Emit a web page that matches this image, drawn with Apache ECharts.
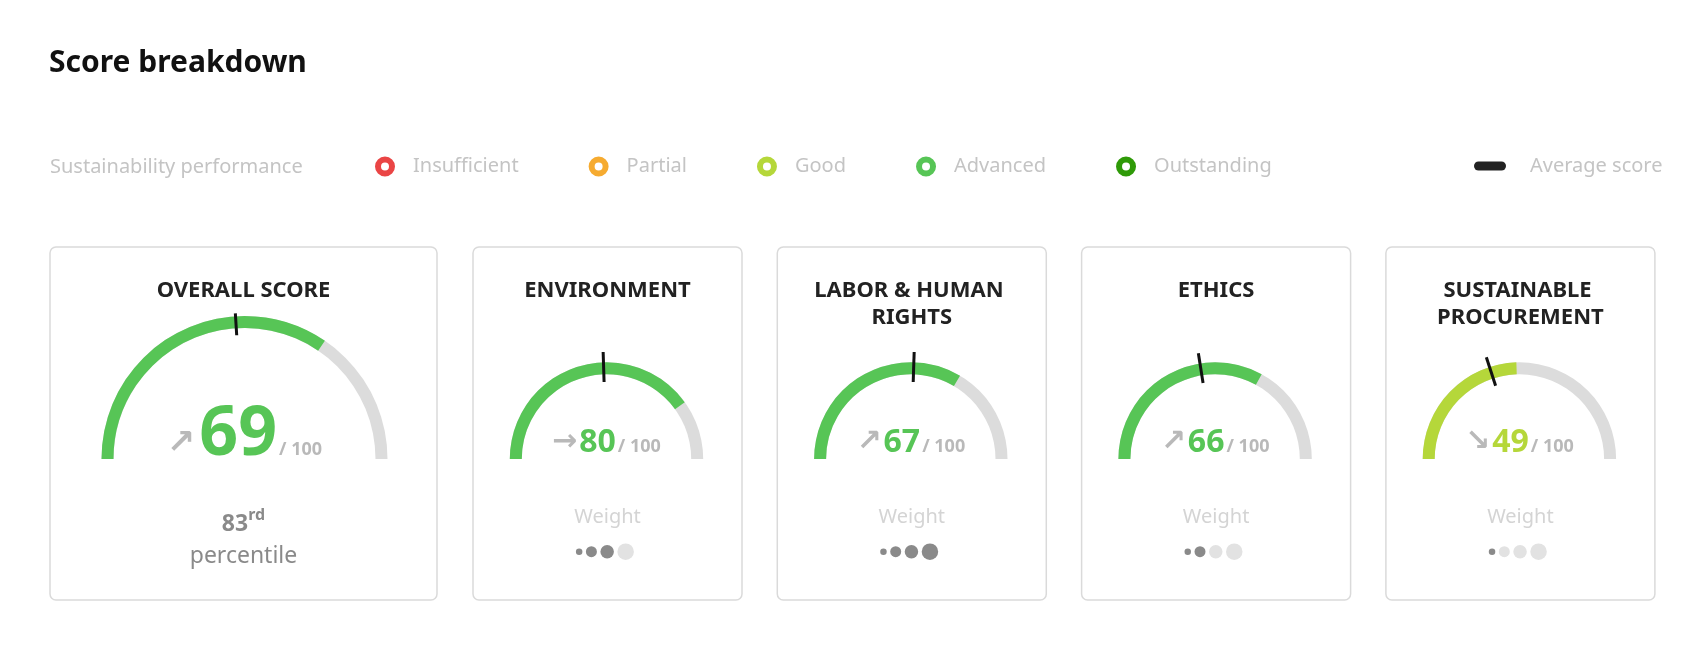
<!DOCTYPE html>
<html><head><meta charset="utf-8">
<script src="https://cdn.jsdelivr.net/npm/echarts@6/dist/echarts.min.js"></script>
<style>html,body{margin:0;padding:0;background:#fff;}#c{width:1705px;height:651px;}</style>
</head><body><div id="c"></div>
<script>
// ---------- data ----------
const pageTitle = 'Score breakdown';
const legendTitle = 'Sustainability performance';
const categories = ['OVERALL SCORE', 'ENVIRONMENT', 'LABOR & HUMAN RIGHTS', 'ETHICS', 'SUSTAINABLE PROCUREMENT'];
const scores = [69, 80, 67, 66, 49];
const averageScores = [48, 49, 51, 45, 40];
const trends = ['up', 'flat', 'up', 'up', 'down'];
const performance = ['Advanced', 'Advanced', 'Advanced', 'Advanced', 'Good'];
const weightLevels = [null, 3, 4, 2, 1];
const percentileRank = 83;
const percentileSuffix = 'rd';
const percentileLabel = 'percentile';
const weightLabel = 'Weight';
const scaleMax = 100;
const performanceLevels = ['Insufficient', 'Partial', 'Good', 'Advanced', 'Outstanding'];
const levelColors = ['#ea4545', '#f6ab30', '#b5d73a', '#57c556', '#2f9a08'];
const averageLabel = 'Average score';

// ---------- layout / style ----------
const FONT = '"Noto Sans", "Open Sans", sans-serif';
const K = 0.285;           // baseline offset from text middle (em)
const cardTop = 247, cardH = 353;
const cards = [{x: 50, w: 387}].concat([0, 1, 2, 3].map(i => ({x: 473 + i * 304.3, w: 269})));
const gaugeCy = 459;
const big = {R: 143, width: 12, numFs: 68, unitFs: 18, arrowFs: 34, baseOff: -4, mk0: 124, mkLen: 22, arrowUp: 10.5, arrowGap: 4};
const small = {R: 96.7, width: 12, numFs: 32, unitFs: 18, arrowFs: 30, baseOff: -7, mk0: 77, mkLen: 30, arrowUp: 9.5, arrowGap: 2};
const arrows = {up: '\u2197', flat: '\u2192', down: '\u2198'};

const series = [];
const graphics = [];

graphics.push({type: 'text', x: 49, y: 72.3 - K * 30, style: {text: pageTitle, fontFamily: FONT, fontWeight: 'bold', fontSize: 30, fill: '#111', align: 'left', verticalAlign: 'middle'}});
graphics.push({type: 'text', x: 50, y: 173.3 - K * 20, style: {text: legendTitle, fontFamily: FONT, fontSize: 20, fill: '#c4c4c4', align: 'left', verticalAlign: 'middle'}});

categories.forEach((name, i) => {
  const c = cards[i];
  const g = i === 0 ? big : small;
  const ccx = c.x + c.w / 2;
  const cx = ccx + (i === 0 ? 1 : -1);
  const color = levelColors[performanceLevels.indexOf(performance[i])];
  const arrow = arrows[trends[i]];
  const offY = g.baseOff - K * g.numFs;
  const unitPadT = 2 * K * (g.numFs - g.unitFs);
  const arrowPadT = 2 * (K * g.numFs - g.arrowUp);

  graphics.push({type: 'rect', z: -10, shape: {x: c.x, y: cardTop, width: c.w, height: cardH, r: 6},
    style: {fill: '#fff', stroke: '#dadada', lineWidth: 1.5}});
  graphics.push({type: 'text', x: ccx, y: 277, z: 10, style: {text: name, fontFamily: FONT, fontWeight: 'bold', fontSize: 22,
    fill: '#222', align: 'center', verticalAlign: 'top', lineHeight: 27, width: 235, overflow: 'break'}});

  series.push({
    type: 'gauge', name: name, center: [cx, gaugeCy], radius: g.R, startAngle: 180, endAngle: 0, min: 0, max: scaleMax,
    animation: false, z: 3,
    axisLine: {lineStyle: {width: g.width, color: [[1, '#dcdcdc']]}},
    progress: {show: true, width: g.width, itemStyle: {color: color}},
    pointer: {show: false}, anchor: {show: false}, axisTick: {show: false}, splitLine: {show: false}, axisLabel: {show: false},
    title: {show: false},
    detail: {
      show: true, offsetCenter: [0, offY],
      formatter: v => '{a|' + arrow + '}{n|' + v + '}{u|/ 100}',
      rich: {
        a: {fontFamily: '"DejaVu Sans"', fontWeight: 'bold', fontSize: g.arrowFs, color: '#b9b9b9', verticalAlign: 'middle', padding: [arrowPadT, g.arrowGap, 0, 0]},
        n: {fontFamily: FONT, fontWeight: 'bold', fontSize: g.numFs, color: color, verticalAlign: 'middle'},
        u: {fontFamily: FONT, fontWeight: 'bold', fontSize: g.unitFs, color: '#b9b9b9', verticalAlign: 'middle', padding: [unitPadT, 0, 0, 2]}
      }
    },
    data: [{value: scores[i], name: name}]
  });
  series.push({
    type: 'gauge', name: name + ' avg', center: [cx, gaugeCy], radius: g.R, startAngle: 180, endAngle: 0, min: 0, max: scaleMax,
    animation: false, z: 6,
    axisLine: {show: false}, progress: {show: false},
    pointer: {show: true, icon: 'rect', width: 3, length: g.mkLen, offsetCenter: [0, -g.mk0], itemStyle: {color: '#111'}},
    anchor: {show: false}, axisTick: {show: false}, splitLine: {show: false}, axisLabel: {show: false},
    title: {show: false}, detail: {show: false},
    data: [{value: averageScores[i]}]
  });

  if (i === 0) {
    graphics.push({type: 'text', x: ccx, y: 530.7 - K * 23, z: 10, style: {
      text: '{n|' + percentileRank + '}{s|' + percentileSuffix + '}', align: 'center', verticalAlign: 'middle',
      rich: {
        n: {fontFamily: FONT, fontWeight: 'bold', fontSize: 23, fill: '#8a8a8a', verticalAlign: 'middle'},
        s: {fontFamily: FONT, fontWeight: 'bold', fontSize: 16, fill: '#8a8a8a', verticalAlign: 'middle', padding: [0, 0, 17, 0]}
      }}});
    graphics.push({type: 'text', x: ccx, y: 563 - K * 23, z: 10, style: {text: percentileLabel, fontFamily: FONT, fontSize: 23,
      fill: '#8a8a8a', align: 'center', verticalAlign: 'middle'}});
  } else {
    graphics.push({type: 'text', x: ccx, y: 523.3 - K * 20, z: 10, style: {text: weightLabel, fontFamily: FONT, fontSize: 20,
      fill: '#d4d4d4', align: 'center', verticalAlign: 'middle'}});
    const sizes = [6.5, 11, 13.5, 16.5];
    let xx = ccx - 31.6;
    sizes.forEach((s, k) => {
      graphics.push({type: 'circle', z: 10, shape: {cx: xx + s / 2, cy: 551.7, r: s / 2},
        style: {fill: k < weightLevels[i] ? '#8a8a8a' : '#e2e2e2'}});
      xx += s + 3.5;
    });
  }
});

// dummy series feeding the legends
performanceLevels.forEach((n, i) => series.push({type: 'line', name: n, data: [], itemStyle: {color: levelColors[i], borderColor: levelColors[i]}}));
series.push({type: 'line', name: averageLabel, data: [], itemStyle: {color: '#222'}});

const chart = echarts.init(document.getElementById('c'), null, {renderer: 'canvas'});
chart.setOption({
  backgroundColor: '#fff',
  animation: false,
  grid: {left: 0, top: 0, width: 1, height: 1, show: false},
  xAxis: {type: 'category', show: false, data: []},
  yAxis: {type: 'value', show: false},
  legend: [{
    data: performanceLevels.map((n, i) => ({name: n, itemStyle: {color: '#fff', borderColor: levelColors[i], borderWidth: 6}})),
    left: 375, top: 156.5, padding: 0, icon: 'circle', itemWidth: 14, itemHeight: 14, itemGap: 70, selectedMode: false,
    textStyle: {fontFamily: FONT, fontSize: 20, color: '#c4c4c4', padding: [0, 0, 0, 16]}
  }, {
    data: [{name: averageLabel, itemStyle: {color: '#222', borderWidth: 0}}],
    left: 1474, top: 156, padding: 0, icon: 'path://M4.5,0H27.5A4.5,4.5,0,0,1,27.5,9H4.5A4.5,4.5,0,0,1,4.5,0Z',
    itemWidth: 32, itemHeight: 9, selectedMode: false,
    textStyle: {fontFamily: FONT, fontSize: 20, color: '#c4c4c4', padding: [0, 0, 0, 19]}
  }],
  graphic: {elements: graphics},
  series: series
});
</script></body></html>
